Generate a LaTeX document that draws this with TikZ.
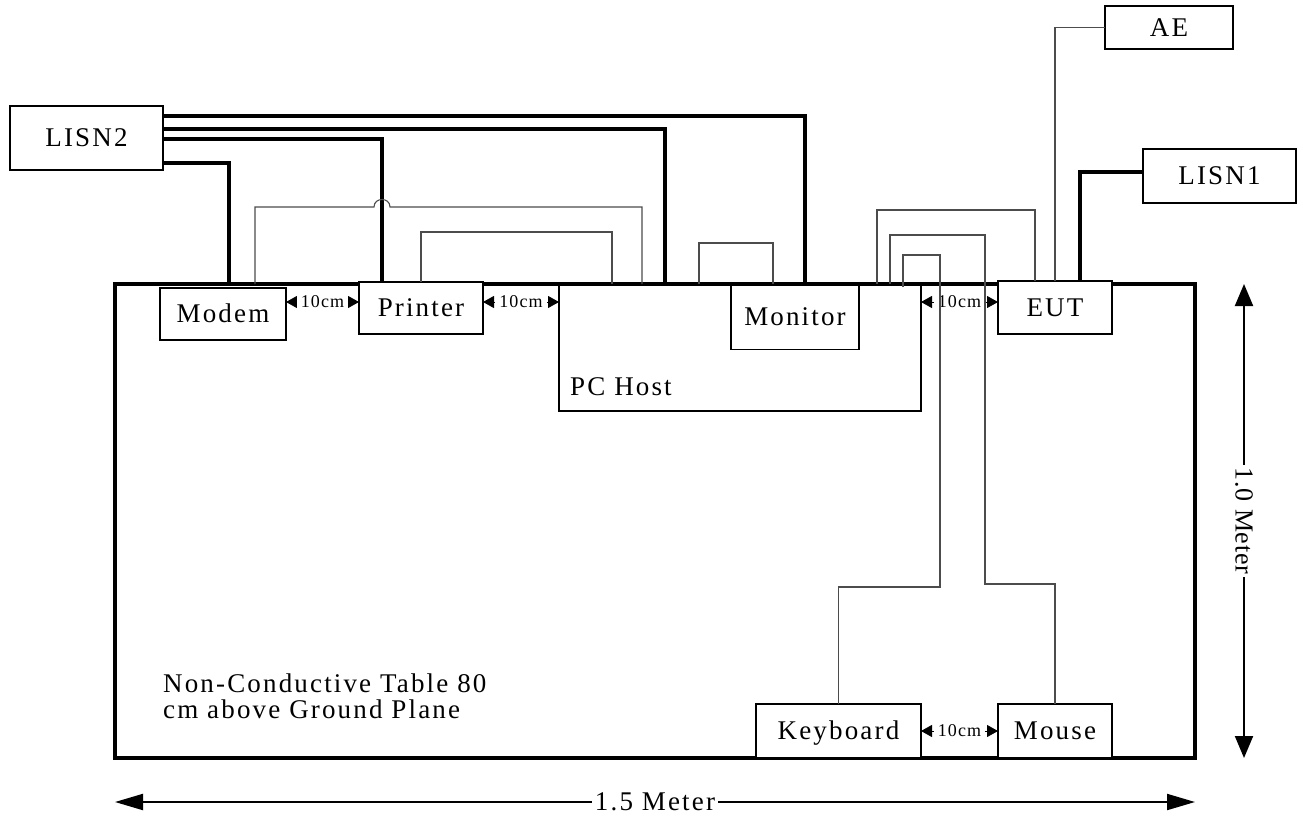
\documentclass[tikz,border=0pt]{standalone}
\usepackage{fontspec}
\setmainfont{Liberation Serif}[LetterSpace=8]
\newfontfamily\dimfont{Liberation Serif}[LetterSpace=6]
\newfontfamily\vfont{Liberation Serif}[LetterSpace=3]
\usetikzlibrary{arrows.meta}
\begin{document}
\begin{tikzpicture}[x=1pt,y=-1pt,
  big/.style={font=\fontsize{27}{29}\selectfont},
  box/.style={draw,line width=1.5pt,fill=white,inner sep=0pt,outer sep=0pt,text height=17.5pt,text depth=0pt,big},
  hollow/.style={draw,line width=1.5pt,inner sep=0pt,outer sep=0pt},
  pw/.style={line width=3.3pt},
  sw/.style={line width=1.1pt,black!70},
  gap/.style={line width=0.8pt,{Triangle[length=11pt,width=12pt]}-{Triangle[length=11pt,width=12pt]}},
  gaplbl/.style={fill=white,inner xsep=4pt,inner ysep=1pt,font=\dimfont\fontsize{18}{20}\selectfont},
  dimh/.style={line width=2pt,{Triangle[length=28pt,width=16pt]}-{Triangle[length=28pt,width=16pt]}},
  dimv/.style={line width=2pt,{Triangle[length=22pt,width=18pt]}-{Triangle[length=22pt,width=18pt]}},
  dimlbl/.style={fill=white,inner xsep=3pt,inner ysep=0pt}
]
\useasboundingbox (0,0) rectangle (1303,816);

% table
\node[draw,line width=3.5pt,inner sep=0pt,outer sep=0pt,minimum width=1080pt,minimum height=474pt] (table) at (655,521) {};

% PC host and monitor
\node[hollow,minimum width=362pt,minimum height=127pt] (pchost) at (740,347.5) {};
\node[hollow,minimum width=128pt,minimum height=65pt,text height=17.5pt,text depth=0pt,big] (monitor) at (795,317) {Monitor};
\node[big,anchor=base west,inner sep=0pt] (pclbl) at (570,395) {PC Host};

% boxes
\node[box,minimum width=153pt,minimum height=64pt] (lisn2) at (86.5,138) {LISN2};
\node[box,minimum width=126pt,minimum height=52pt] (modem) at (223,314) {Modem};
\node[box,minimum width=124pt,minimum height=52pt] (printer) at (421,308) {Printer};
\node[box,minimum width=114pt,minimum height=53pt] (eut) at (1055,307.5) {EUT};
\node[box,minimum width=153pt,minimum height=54pt] (lisn1) at (1219.5,176) {LISN1};
\node[box,minimum width=128pt,minimum height=43pt] (ae) at (1169,27.5) {AE};
\node[box,minimum width=165pt,minimum height=54pt] (keyboard) at (838.5,731) {Keyboard};
\node[box,minimum width=114pt,minimum height=54pt] (mouse) at (1055,731) {Mouse};

% table text
\node[big,anchor=base west,inner sep=0pt] (tt1) at (163,692) {Non-Conductive Table 80};
\node[big,anchor=base west,inner sep=0pt] (tt2) at (163,718) {cm above Ground Plane};

% 10 cm spacings
\draw[gap] (modem.east |- 0,302) -- (printer.west |- 0,302) node[midway,gaplbl] (g1) {10cm};
\draw[gap] (printer.east |- 0,302) -- (pchost.west |- 0,302) node[midway,gaplbl] (g2) {10cm};
\draw[gap] (pchost.east |- 0,302) -- (eut.west |- 0,302) node[midway,gaplbl] (g3) {10cm};
\draw[gap] (keyboard.east) -- (mouse.west) node[midway,gaplbl] (g4) {10cm};

% overall dimensions
\draw[dimh] (table.south west |- 0,802) -- (table.south east |- 0,802) node[midway,dimlbl,big] (dimw) {1.5 Meter};
\draw[dimv] (table.north -| 1244,0) -- (table.south -| 1244,0) node[midway,dimlbl,rotate=-90,font=\vfont\fontsize{26}{29}\selectfont] (dimd) {1.0 Meter};

% power cords (thick)
\draw[pw] (lisn2.east |- 0,116) -| (table.north -| 805,0);
\draw[pw] (lisn2.east |- 0,129) -| (table.north -| 665,0);
\draw[pw] (lisn2.east |- 0,139) -| (printer.north -| 382,0);
\draw[pw] (lisn2.east |- 0,163) -| (table.north -| 229,0);
\draw[pw] (lisn1.west |- 0,172) -| (eut.north -| 1080,0);

% signal cables (thin)
\draw[sw] (ae.west) -| (eut.north -| 1055,0);
\draw[sw] (table.north -| 255,0) -- (255,207) -- (374,207) .. controls (374,197) and (390,197) .. (390,207) -- (642,207) -- (table.north -| 642,0);
\draw[sw] (printer.north -| 421,0) |- (612,232) -- (table.north -| 612,0);
\draw[sw] (table.north -| 699,0) |- (773,243) -- (table.north -| 773,0);
\draw[sw] (table.north -| 877,0) |- (1035,210) -- (eut.north -| 1035,0);
\draw[sw] (table.north -| 890,0) |- (985,235) -- (985,584) -| (mouse.north);
\draw[sw] (903,287) |- (940,255) -- (940,587) -| (keyboard.north);
\end{tikzpicture}
\end{document}
